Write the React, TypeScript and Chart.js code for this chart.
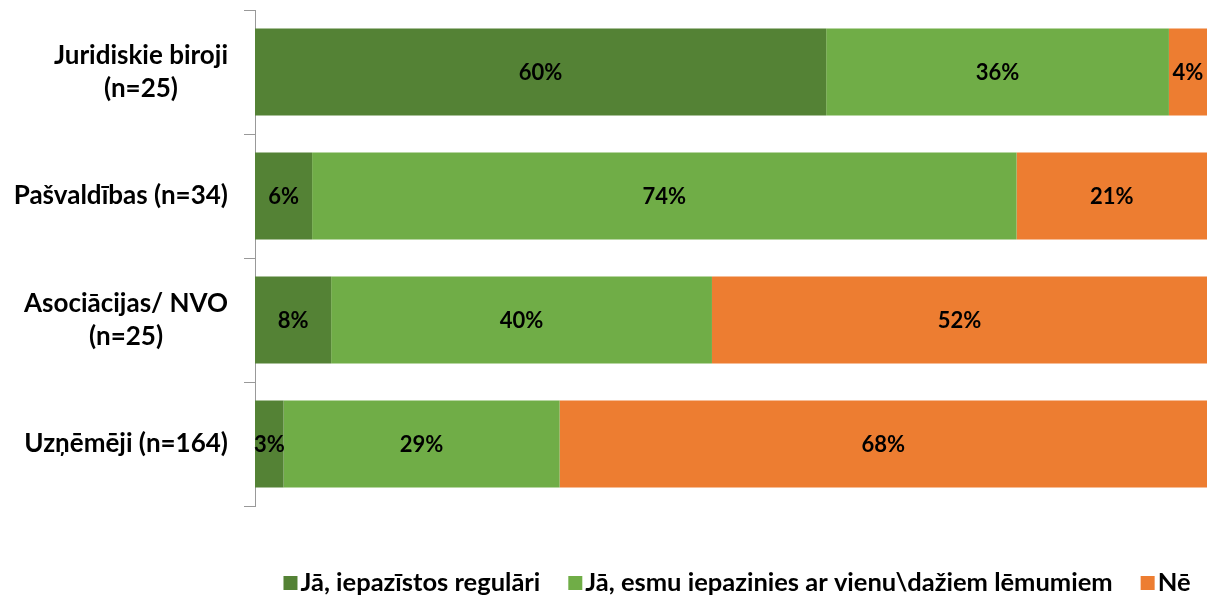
import React, { useEffect, useRef } from "react";
import { Chart, registerables } from "chart.js";

Chart.register(...registerables);

const categories: (string | string[])[] = [
  ["Juridiskie biroji", "(n=25)"],
  "Pašvaldības (n=34)",
  ["Asociācijas/ NVO", "(n=25)"],
  "Uzņēmēji (n=164)",
];
const seriesNames = [
  "Jā, iepazīstos regulāri",
  "Jā, esmu iepazinies ar vienu\\dažiem lēmumiem",
  "Nē",
];
const regularly = [60, 6, 8, 3];
const someDecisions = [36, 74, 40, 29];
const no = [4, 21, 52, 68];
const colors = ["#548235", "#70AD47", "#ED7D31"];

const FONT = "Lato, 'Open Sans', sans-serif";

const valueLabels = {
  id: "valueLabels",
  afterDatasetsDraw(chart: any) {
    const { ctx } = chart;
    ctx.save();
    ctx.font = `bold 22px ${FONT}`;
    ctx.fillStyle = "#000000";
    ctx.textAlign = "center";
    ctx.textBaseline = "middle";
    chart.data.datasets.forEach((ds: any, di: number) => {
      const meta = chart.getDatasetMeta(di);
      meta.data.forEach((bar: any, i: number) => {
        const v = ds.data[i];
        const right = Math.min(bar.x, chart.chartArea.right);
        const cx = (right + bar.base) / 2;
        ctx.fillText(`${v}%`, cx, bar.y + 1);
      });
    });
    ctx.restore();
  },
};

// Category labels: block right-aligned next to the axis, lines centred within the block
const categoryLabels = {
  id: "categoryLabels",
  afterDraw(chart: any) {
    const { ctx } = chart;
    const yScale = chart.scales.y;
    const rightEdge = yScale.right - 11 - 16;
    const lineH = 33;
    ctx.save();
    ctx.font = `bold 26px ${FONT}`;
    ctx.fillStyle = "#000000";
    ctx.textBaseline = "middle";
    ctx.textAlign = "center";
    (chart.data.labels as any[]).forEach((lab: any, i: number) => {
      const lines: string[] = Array.isArray(lab) ? lab : [lab];
      const blockW = Math.max(...lines.map((l) => ctx.measureText(l).width));
      const cx = rightEdge - blockW / 2;
      const cy = yScale.getPixelForTick(i);
      lines.forEach((l, k) => {
        const y = cy + (k - (lines.length - 1) / 2) * lineH;
        ctx.fillText(l, cx, y);
      });
    });
    ctx.restore();
  },
};

const bottomLegend = {
  id: "bottomLegend",
  afterDraw(chart: any) {
    const { ctx, chartArea } = chart;
    const box = 14;
    const textGap = 3;
    const itemGap = 28;
    ctx.save();
    ctx.font = `bold 25.5px ${FONT}`;
    ctx.textBaseline = "middle";
    ctx.textAlign = "left";
    const items = chart.data.datasets.map((ds: any) => ({
      text: ds.label,
      color: ds.backgroundColor,
      w: ctx.measureText(ds.label).width,
    }));
    const total =
      items.reduce((s: number, it: any) => s + box + textGap + it.w, 0) +
      itemGap * (items.length - 1);
    let x = (chartArea.left + chartArea.right) / 2 + 6 - total / 2;
    const cy = 583;
    items.forEach((it: any) => {
      ctx.fillStyle = it.color;
      ctx.fillRect(x, cy - box / 2, box, box);
      ctx.fillStyle = "#000000";
      ctx.fillText(it.text, x + box + textGap, cy);
      x += box + textGap + it.w + itemGap;
    });
    ctx.restore();
  },
};

export default function App() {
  const ref = useRef<HTMLCanvasElement | null>(null);
  useEffect(() => {
    document.body.style.margin = "0";
    const chart = new Chart(ref.current as HTMLCanvasElement, {
      type: "bar",
      data: {
        labels: categories,
        datasets: [
          { label: seriesNames[0], data: regularly, backgroundColor: colors[0] },
          { label: seriesNames[1], data: someDecisions, backgroundColor: colors[1] },
          { label: seriesNames[2], data: no, backgroundColor: colors[2] },
        ],
      },
      options: {
        indexAxis: "y",
        responsive: false,
        animation: false,
        maintainAspectRatio: false,
        layout: { padding: { top: 10, right: 0, left: 0, bottom: 0 } },
        datasets: {
          bar: { barPercentage: 0.7, categoryPercentage: 1, borderWidth: 0 },
        },
        scales: {
          x: {
            stacked: true,
            min: 0,
            max: 100,
            display: true,
            ticks: { display: false },
            grid: { display: false },
            border: { display: false },
            afterFit: (scale: any) => {
              scale.height = 89;
              scale.paddingLeft = 0;
              scale.paddingRight = 0;
            },
          },
          y: {
            stacked: true,
            afterFit: (scale: any) => {
              scale.width = 255;
              scale.paddingTop = 0;
              scale.paddingBottom = 0;
            },
            grid: {
              offset: true,
              drawOnChartArea: false,
              drawTicks: true,
              tickLength: 11,
              color: "#999999",
              lineWidth: 1,
            },
            border: { color: "#999999", width: 1 },
            ticks: { display: false },
          },
        },
        plugins: {
          legend: { display: false },
          tooltip: { enabled: false },
        },
      },
      plugins: [valueLabels, categoryLabels, bottomLegend],
    });
    return () => chart.destroy();
  }, []);
  return (
    <div style={{ width: 1207, height: 595 }}>
      <canvas ref={ref} width={1207} height={595} />
    </div>
  );
}
